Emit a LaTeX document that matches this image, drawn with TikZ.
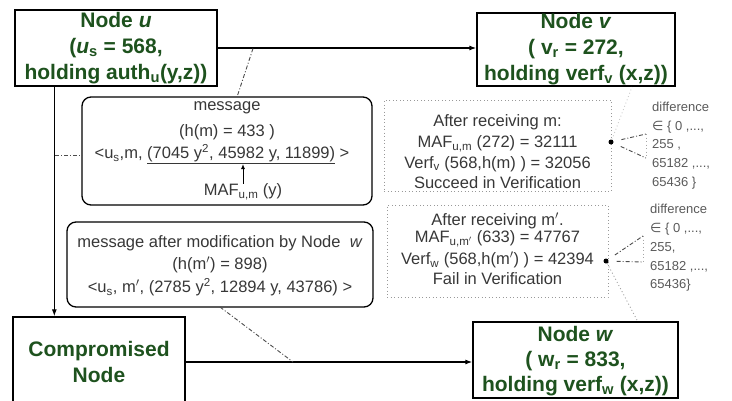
\documentclass[tikz,border=0pt]{standalone}
\usepackage{fontspec}
\setmainfont{Liberation Sans}
\newfontfamily\djv{DejaVu Sans}
\usetikzlibrary{arrows.meta}
\definecolor{tgreen}{RGB}{30,82,30}
\definecolor{txtgray}{RGB}{55,55,55}
\definecolor{difgray}{RGB}{90,90,90}
\begin{document}
\begin{tikzpicture}[x=1pt,y=-1pt,
  nodebox/.style={draw,line width=1.3pt,inner sep=0pt,align=center,font=\fontsize{21}{26}\selectfont\bfseries,text=tgreen},
  boxtext/.style={inner sep=0pt,align=center,font=\fontsize{21}{25}\selectfont\bfseries,text=tgreen},
  msgbox/.style={draw,line width=1.3pt,rounded corners=9pt,inner sep=0pt},
  dotbox/.style={draw=gray!80,line width=0.9pt,dash pattern=on 0.9pt off 2.6pt,inner sep=0pt},
  msgtext/.style={inner sep=0pt,text=txtgray,font=\fontsize{16.5}{20}\selectfont},
  diftext/.style={inner sep=0pt,anchor=west,align=left,text=difgray,font=\fontsize{13}{18.7}\selectfont},
  conn/.style={line width=1.2pt},
  tip/.style={-{Latex[length=7pt,width=5pt]}},
  dashdot/.style={line width=0.9pt,dash pattern=on 4pt off 2pt on 1pt off 2pt,gray!60!black},
  faint/.style={line width=0.9pt,dash pattern=on 1pt off 2.5pt,gray!70}
]
\useasboundingbox (0,0) rectangle (732,400);

% main nodes
\node[nodebox,minimum width=202pt,minimum height=76pt] (u) at (116,48)
  {Node \textit{u}\\(\textit{u}\textsubscript{s} = 568,\\holding auth\textsubscript{u}(y,z))};
\node[nodebox,minimum width=198pt,minimum height=73pt] (v) at (576,49.5)
  {Node \textit{v}\\( v\textsubscript{r} = 272,\\holding verf\textsubscript{v} (x,z))};
\node[nodebox,minimum width=172pt,minimum height=90pt] (comp) at (99,362)
  {Compromised\\Node};
\node[nodebox,minimum width=205pt,minimum height=76pt] (w) at (575.5,360) {};
\node[boxtext] (wtext) at (575.5,361)
  {Node \textit{w}\\( w\textsubscript{r} = 833,\\holding verf\textsubscript{w} (x,z))};

% message box
\node[msgbox,minimum width=290pt,minimum height=108pt] (msg) at (227,151) {};
\node[msgtext] (msg1) at (227,108) {message};
\node[msgtext] (msg2) at (227,132) {(h(m) = 433 )};
\node[msgtext] (msg3) at (222,154) {<u\textsubscript{s},m, \underline{(7045 y\textsuperscript{2}, 45982 y, 11899)} >};
\node[msgtext] (maf) at (243,192) {MAF\textsubscript{u,m} (y)};
\coordinate (ar) at (243,164);
\draw[line width=1pt,-{Latex[length=5pt,width=4pt]}] (maf.north) -- (ar);

% modified message box
\node[msgbox,minimum width=306pt,minimum height=85pt] (mod) at (220,264.5) {};
\node[msgtext] (mod1) at (220,243) {message after modification by Node \ \textit{w}};
\node[msgtext] (mod2) at (220,265) {(h(m$'$) = 898)};
\node[msgtext] (mod3) at (220,287) {<u\textsubscript{s}, m$'$, (2785 y\textsuperscript{2}, 12894 y, 43786) >};

% verification boxes
\node[dotbox,minimum width=227pt,minimum height=91pt] (ver1) at (497.5,145.5) {};
\node[msgtext] (v1a) at (497.5,122) {After receiving m:};
\node[msgtext] (v1b) at (497.5,144) {MAF\textsubscript{u,m} (272) = 32111};
\node[msgtext] (v1c) at (497.5,164) {Verf\textsubscript{v} (568,h(m) ) = 32056};
\node[msgtext] (v1d) at (497.5,183) {Succeed in Verification};

\node[dotbox,minimum width=221pt,minimum height=92pt] (ver2) at (497.5,251) {};
\node[msgtext] (v2a) at (497.5,221) {After receiving m$'$.};
\node[msgtext] (v2b) at (497.5,239) {MAF\textsubscript{u,m$'$} (633) = 47767};
\node[msgtext] (v2c) at (497.5,260) {Verf\textsubscript{w} (568,h(m$'$) ) = 42394};
\node[msgtext] (v2d) at (497.5,279) {Fail in Verification};

% difference texts
\node[diftext] (dif1) at (652,145.5) {difference\\{\djv ∈} \{ 0 ,...,\\255 ,\\65182 ,...,\\65436 \}};
\node[diftext] (dif2) at (650,248) {difference\\{\djv ∈} \{ 0 ,...,\\255,\\65182 ,...,\\65436\}};

% dots and brackets
\node[circle,fill=black,inner sep=0pt,minimum size=5pt] (d1) at (611,142) {};
\node[circle,fill=black,inner sep=0pt,minimum size=5pt] (d2) at (606,261) {};
\coordinate (b1a) at (646,134);
\coordinate (b1b) at (646,158);
\coordinate (b2a) at (643,236);
\coordinate (b2b) at (643,262);
\draw[dashdot,shorten <=8pt] (d1) -- (b1a);
\draw[dashdot,shorten <=8pt] (d1) -- (b1b);
\draw[faint] (b1a) -- (b1b);
\draw[dashdot,shorten <=8pt] (d2) -- (b2a);
\draw[dashdot,shorten <=8pt] (d2) -- (b2b);
\draw[faint] (b2a) -- (b2b);
\coordinate (vb) at (632,87);
\coordinate (wt) at (638,322);
\draw[faint,gray!40] (d1) -- (vb);
\draw[faint] (d2) -- (wt);

% main connectors
\draw[conn,tip] (u.east) -- (u.east -| v.west);
\draw[conn,tip] ([xshift=40pt]u.south west) -- ([xshift=42pt]comp.north west);
\draw[conn,tip] (comp.east |- 0,362) -- (w.west |- 0,362);

% dash-dotted links
\coordinate (t1) at (253,48.5);
\coordinate (m1) at (237,97);
\draw[dashdot] (t1) -- (m1);
\coordinate (L1) at (55,155);
\coordinate (m2) at (82,155);
\draw[dashdot] (L1) -- (m2);
\coordinate (m3) at (220,307);
\coordinate (t2) at (293,362);
\draw[dashdot] (m3) -- (t2);
\end{tikzpicture}
\end{document}
